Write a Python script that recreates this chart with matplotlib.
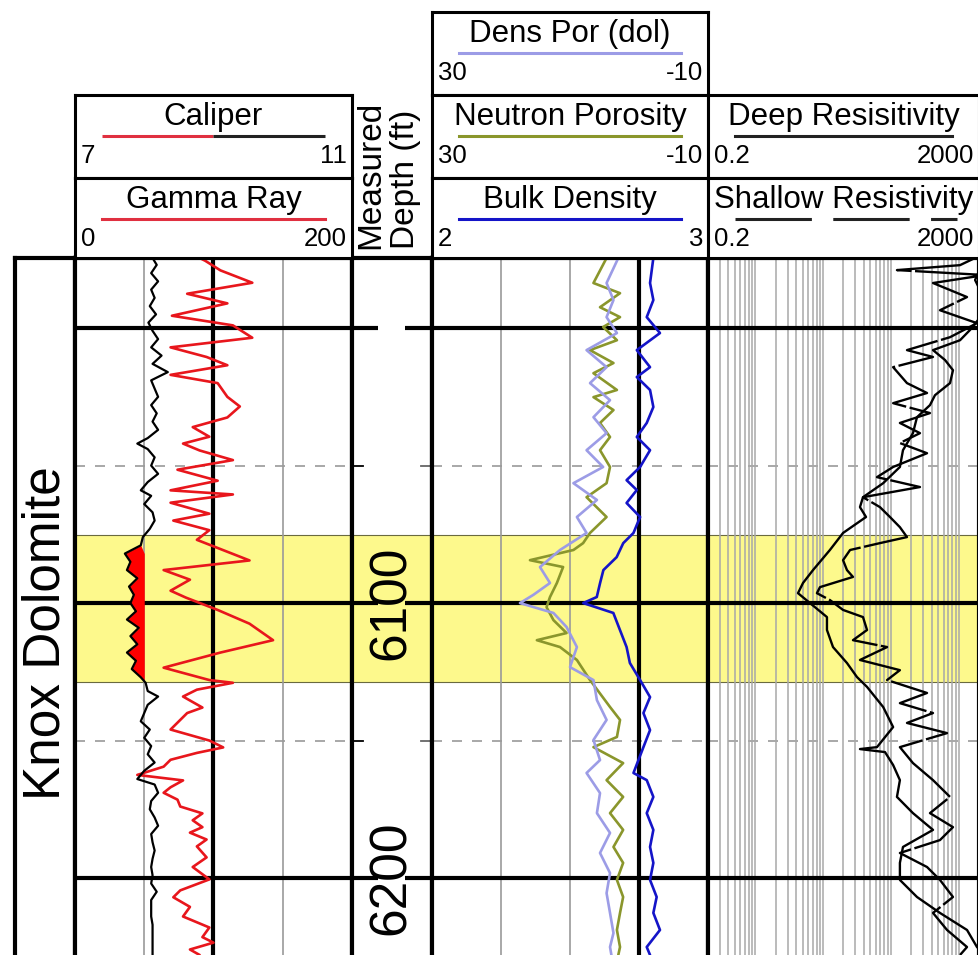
import numpy as np
import matplotlib
matplotlib.use('Agg')
import matplotlib.pyplot as plt

plt.rcParams['font.family'] = ['Liberation Sans', 'DejaVu Sans']

# ---------------- data ----------------
top_depth, bottom_depth = 5974.5, 6228.0
zone_top, zone_bottom = 6075.3, 6128.7
major_depths = [6000, 6100, 6200]
minor_depths = [6050, 6150]
depth_labels = ['6100', '6200']
formation = 'Knox Dolomite'

gr_depth = [5974.5, 5975.5, 5979, 5983.5, 5987.5, 5991, 5995.5, 5999, 6003.5, 6007,
            6010.5, 6013.5, 6017, 6020, 6025, 6028.5, 6032.5, 6036, 6039.5, 6042,
            6044.5, 6048, 6051.5, 6055.5, 6059, 6060.5, 6063.5, 6067.5, 6070, 6073.5,
            6077, 6084.5, 6088, 6091.5, 6095.5, 6098, 6102.5, 6107.5, 6113.5, 6118,
            6123.5, 6128, 6129, 6131.5, 6134, 6138, 6140, 6142.5, 6146, 6150,
            6152.5, 6154.5, 6157, 6159.5, 6162.5, 6164.5, 6167, 6169, 6171.5, 6174,
            6176.5, 6179, 6181.5, 6183.5, 6186, 6188.5, 6192.5, 6196, 6200.5, 6204.5,
            6207, 6210.5, 6214, 6218, 6221.5, 6223.5, 6226, 6228]
gr_value = [90, 94, 105, 128, 81, 110, 70, 114, 128, 69,
            95, 110, 69, 103, 110, 119, 110, 85, 97, 78,
            90, 114, 74, 103, 69, 114, 69, 97, 71, 97,
            88, 126, 64, 83, 69, 80, 103, 126, 143, 105,
            64, 97, 114, 88, 78, 92, 81, 76, 69, 97,
            107, 88, 69, 64, 45, 78, 69, 64, 74, 76,
            92, 85, 92, 83, 95, 88, 95, 85, 97, 76,
            71, 83, 78, 97, 92, 100, 83, 90]

cal_depth = [5974.5, 5977, 5980, 5983, 5986, 5989, 5992, 5995, 5998, 6001,
             6004, 6007, 6010, 6013, 6016, 6019, 6022, 6025, 6028, 6031,
             6034, 6037, 6040, 6042, 6044, 6047, 6050, 6053, 6056, 6059,
             6061, 6064, 6067, 6070, 6073, 6076, 6079, 6082, 6085, 6088,
             6091, 6094, 6097, 6100, 6103, 6106, 6109, 6112, 6115, 6118,
             6121, 6124, 6127, 6129, 6132, 6134, 6137, 6140, 6143, 6146,
             6149, 6152, 6155, 6158, 6161, 6164, 6166, 6169, 6172, 6175,
             6178, 6181, 6184, 6187, 6190, 6193, 6196, 6199, 6202, 6205,
             6208, 6211, 6214, 6217, 6220, 6224, 6228]
cal_value = [8.12, 8.18, 8.10, 8.20, 8.10, 8.15, 8.08, 8.17, 8.06, 8.12,
             8.20, 8.10, 8.25, 8.12, 8.34, 8.10, 8.15, 8.20, 8.10, 8.18,
             8.12, 8.20, 8.05, 7.90, 8.05, 8.15, 8.10, 8.20, 8.05, 7.95,
             8.10, 8.00, 8.12, 8.15, 8.08, 7.98, 7.95, 7.72, 7.80, 7.75,
             7.90, 7.78, 7.85, 7.80, 7.88, 7.75, 7.92, 7.80, 7.90, 7.75,
             7.88, 7.82, 7.95, 8.02, 8.05, 8.20, 8.05, 8.00, 7.95, 8.08,
             8.00, 8.10, 8.05, 8.15, 8.00, 7.90, 8.15, 8.20, 8.10, 8.08,
             8.15, 8.20, 8.10, 8.12, 8.15, 8.12, 8.10, 8.12, 8.10, 8.18,
             8.10, 8.10, 8.10, 8.12, 8.12, 8.12, 8.12]
bit_size = 8.0

nphi_depth = [5974.5, 5983.6, 5987.3, 5992.4, 5996.0, 5999.6, 6004.4, 6008.0, 6012.7, 6016.4,
              6022.5, 6025.1, 6029.8, 6034.5, 6039.6, 6044.4, 6050.5, 6056.4, 6061.5, 6068.7,
              6074.5, 6078.2, 6080.7, 6084.4, 6086.9, 6092.7, 6097.8, 6101.5, 6106.2, 6110.9,
              6113.5, 6116.0, 6120.7, 6128.0, 6137.8, 6142.5, 6148.7, 6152.4, 6158.2, 6164.4,
              6170.5, 6176.4, 6182.5, 6188.7, 6194.5, 6200.7, 6206.9, 6212.7, 6218.9, 6225.1,
              6228]
nphi_value = [4.7, 6.6, 2.75, 5.65, 2.75, 5.2, 3.2, 7.1, 3.7, 6.6,
              3.2, 6.6, 3.7, 5.65, 4.2, 5.65, 4.2, 4.7, 7.6, 4.7,
              7.1, 8.1, 9.5, 15.8, 11.0, 11.9, 12.9, 13.4, 12.4, 10.5,
              14.8, 11.45, 9.0, 7.1, 4.2, 2.75, 3.2, 6.6, 2.3, 4.7,
              2.3, 4.2, 2.3, 3.7, 2.3, 3.2, 2.3, 2.75, 3.2, 2.75,
              3.0]

dphi_depth = [5974.5, 5983.6, 5989.8, 5996.0, 6001.8, 6008.0, 6014.2, 6020.0, 6026.2, 6032.4,
              6038.2, 6044.4, 6050.5, 6056.4, 6062.5, 6068.7, 6074.5, 6080.7, 6086.9, 6092.7,
              6097.0, 6100.0, 6103.6, 6108.7, 6116.0, 6123.3, 6128.0, 6135.3, 6142.5, 6149.8,
              6157.1, 6161.8, 6169.1, 6176.4, 6183.6, 6190.9, 6198.2, 6205.5, 6212.7, 6220.0,
              6225.1, 6228]
dphi_value = [3.0, 4.7, 3.7, 4.7, 3.2, 7.6, 4.7, 7.1, 4.2, 6.6,
              4.7, 7.6, 5.2, 9.5, 6.1, 9.0, 7.6, 11.45, 14.35, 12.9,
              15.3, 17.25, 12.4, 10.5, 9.0, 10.0, 6.6, 6.1, 4.7, 6.6,
              5.65, 7.6, 5.65, 6.1, 4.2, 5.65, 4.2, 4.7, 4.2, 3.7,
              4.2, 4.0]

rhob_depth = [5974.5, 5983.6, 5989.8, 5996.0, 6001.8, 6008.0, 6014.2, 6017.8, 6022.5, 6028.7,
              6034.5, 6039.6, 6044.4, 6050.5, 6055.3, 6058.9, 6063.6, 6068.7, 6074.5, 6078.2,
              6083.3, 6088.0, 6092.7, 6097.8, 6100.0, 6103.6, 6109.8, 6116.0, 6121.8, 6128.0,
              6134.2, 6140.0, 6146.2, 6152.4, 6161.8, 6164.4, 6170.5, 6176.4, 6182.5, 6188.7,
              6194.5, 6200.7, 6206.9, 6212.7, 6218.9, 6225.1, 6228]
rhob_value = [2.802, 2.790, 2.802, 2.778, 2.826, 2.742, 2.790, 2.742, 2.790, 2.802,
              2.778, 2.742, 2.790, 2.754, 2.705, 2.742, 2.705, 2.754, 2.730, 2.693,
              2.669, 2.621, 2.609, 2.597, 2.548, 2.657, 2.681, 2.705, 2.717, 2.754,
              2.790, 2.766, 2.790, 2.766, 2.730, 2.778, 2.802, 2.778, 2.802, 2.790,
              2.802, 2.790, 2.814, 2.802, 2.826, 2.778, 2.790]

deep_depth = [5974.5, 5982.5, 5989.8, 5997.1, 6000.7, 6004.4, 6008.0, 6011.6, 6015.3, 6020.0,
              6024.4, 6028.0, 6032.4, 6038.2, 6044.4, 6050.5, 6056.4, 6061.5, 6065.1, 6068.7,
              6074.5, 6080.7, 6088.0, 6092.7, 6096.4, 6100.0, 6105.1, 6109.8, 6116.0, 6121.8,
              6126.9, 6130.5, 6137.8, 6145.1, 6152.4, 6153.1, 6154.2, 6158.9, 6164.4, 6170.5,
              6176.4, 6182.5, 6188.7, 6194.5, 6200.7, 6206.9, 6212.7, 6218.9, 6225.1, 6228.0]
deep_value = [2450, 1750, 2450, 1930, 1470, 1050, 419, 630, 826, 747,
              448, 378, 243, 212, 151, 136, 77, 38.8, 35, 43,
              19.7, 12.6, 7.1, 5.05, 4.26, 6.4, 11.4, 11.4, 14.0, 22.5,
              31.6, 44.5, 77, 108, 62.4, 35, 82, 108, 136, 123,
              212, 419, 151, 136, 136, 243, 531, 1331, 1867, 2450]

shal_depth = [5974.5, 5977.1, 5978.9, 5980.7, 5983.6, 5988.7, 5993.5, 5998.2, 6003.3, 6008.0,
              6010.5, 6014.2, 6020.0, 6023.6, 6027.3, 6030.9, 6034.5, 6038.2, 6041.8, 6045.5,
              6050.5, 6054.2, 6057.8, 6061.5, 6065.1, 6068.7, 6072.4, 6076.0, 6078.2, 6080.7,
              6084.4, 6088.0, 6090.5, 6094.2, 6096.4, 6098.9, 6102.5, 6105.1, 6109.8, 6113.5,
              6116.0, 6120.7, 6124.4, 6128.0, 6132.7, 6136.4, 6140.0, 6143.6, 6147.3, 6152.4,
              6158.2, 6164.4, 6170.5, 6176.4, 6181.5, 6186.2, 6190.9, 6196.0, 6200.7, 6206.9,
              6212.7, 6218.9, 6225.1, 6228.0]
shal_value = [1746, 1049, 123, 2450, 419, 1331, 531, 1867, 747, 173,
              419, 108, 173, 342, 108, 378, 136, 269, 136, 342,
              108, 62.4, 269, 38.8, 69, 97, 136, 173, 69, 25,
              19.7, 22.5, 27.6, 9.0, 8.1, 12.6, 19.7, 38.8, 44.5, 27.6,
              88, 35, 136, 88, 342, 136, 419, 173, 675, 136,
              212, 419, 747, 378, 826, 531, 136, 342, 531, 826,
              419, 675, 1331, 1049]

# ---------------- figure / layout ----------------
W, H = 979, 955
fig = plt.figure(figsize=(W / 100, H / 100), dpi=100)

def ax_px(x0, y0, x1, y1):
    return fig.add_axes([x0 / W, 1 - y1 / H, (x1 - x0) / W, (y1 - y0) / H])

YELLOW = '#fdf98c'
GRID = '#9a9a9a'
BORDER_LW = 3.0
CURVE_LW = 1.9
DATA_TOP = 258
curve_kw = dict(solid_joinstyle='round', solid_capstyle='round')

def style_track(ax):
    ax.set_ylim(bottom_depth, top_depth)
    ax.set_xticks([]); ax.set_yticks([])
    for s in ['left', 'right', 'top']:
        ax.spines[s].set_linewidth(BORDER_LW)
    ax.spines['bottom'].set_visible(False)

def depth_lines(ax):
    ax.axhspan(zone_top, zone_bottom, color=YELLOW, zorder=0, lw=0)
    for d in (zone_top, zone_bottom):
        ax.axhline(d, color='#6a6a40', lw=0.8, zorder=1)
    for d in major_depths:
        ax.axhline(d, color='black', lw=BORDER_LW, zorder=3)
    for d in minor_depths:
        ax.axhline(d, color=GRID, lw=1.2, dashes=(6, 6), zorder=2)

# formation column
axf = ax_px(15, DATA_TOP, 75, H)
axf.set_xlim(0, 1)
style_track(axf)
axf.text(0.52, 0.462, formation, transform=axf.transAxes, rotation=90,
         ha='center', va='center', fontsize=37)

# track 1: gamma ray + caliper
ax1 = ax_px(75, DATA_TOP, 352, H)
ax1.set_xlim(0, 200)
style_track(ax1)
depth_lines(ax1)
for g in (50, 150):
    ax1.axvline(g, color=GRID, lw=1.2, zorder=2)
ax1.axvline(100, color='black', lw=BORDER_LW, zorder=3)
ax1c = ax1.twiny()
ax1c.set_xlim(7, 11)
ax1c.axis('off')
cd = np.array(cal_depth); cv = np.array(cal_value)
mask = (cd >= zone_top + 4) & (cd <= zone_bottom) & (cv < bit_size)
ax1c.fill_betweenx(cd, cv, bit_size, where=mask, interpolate=True, color='#ff0000', lw=0, zorder=4)
ax1c.plot(cal_value, cal_depth, color='black', lw=1.6, zorder=5, **curve_kw)
ax1.plot(gr_value, gr_depth, color='#e8161c', lw=CURVE_LW, zorder=6, **curve_kw)

# depth track
axd = ax_px(352, DATA_TOP, 432, H)
axd.set_xlim(0, 1)
style_track(axd)
axd.axhspan(zone_top, zone_bottom, color=YELLOW, zorder=0, lw=0)
for d in (zone_top, zone_bottom):
    axd.axhline(d, color='#6a6a40', lw=0.8, zorder=1)
for d in major_depths:
    axd.plot([0, 0.32], [d, d], color='black', lw=BORDER_LW, solid_capstyle='butt')
    axd.plot([0.66, 1], [d, d], color='black', lw=BORDER_LW, solid_capstyle='butt')
for d in minor_depths:
    axd.plot([0, 0.14], [d, d], color='black', lw=1.3)
    axd.plot([0.86, 1], [d, d], color='#666666', lw=1.3)
for lab in depth_labels:
    axd.text(0.49, float(lab), lab, rotation=90, ha='center', va='center',
             fontsize=37, zorder=5)

# track 2: porosity + density
ax2 = ax_px(432, DATA_TOP, 708, H)
ax2.set_xlim(2, 3)
style_track(ax2)
depth_lines(ax2)
for g in (2.25, 2.5):
    ax2.axvline(g, color=GRID, lw=1.2, zorder=2)
ax2.axvline(2.75, color='black', lw=BORDER_LW, zorder=3)
ax2p = ax2.twiny()
ax2p.set_xlim(30, -10)
ax2p.axis('off')
ax2p.plot(nphi_value, nphi_depth, color='#8a962c', lw=CURVE_LW, zorder=5, **curve_kw)
ax2p.plot(dphi_value, dphi_depth, color='#9c9ce6', lw=CURVE_LW, zorder=6, **curve_kw)
ax2.plot(rhob_value, rhob_depth, color='#1414c8', lw=CURVE_LW, zorder=7, **curve_kw)

# track 3: resistivity
ax3 = ax_px(708, DATA_TOP, 979, H)
ax3.set_xscale('log')
ax3.set_xlim(0.2, 2000)
style_track(ax3)
ax3.set_xticks([], minor=True)
depth_lines(ax3)
for dec in (0.1, 1, 10, 100, 1000):
    for m in range(1, 10):
        v = m * dec
        if 0.2 <= v <= 2000:
            ax3.axvline(v, color='#a8a8a8', lw=1.1, zorder=2)
ax3.plot(deep_value, deep_depth, color='black', lw=1.7, zorder=5, **curve_kw)
ax3.plot(shal_value, shal_depth, color='black', lw=1.7, dashes=(40, 1.5), zorder=6)

# ---------------- headers ----------------
def header(x0, y0, x1, y1, title, lo, hi, color, dashed=False, split=None):
    ax = ax_px(x0, y0, x1, y1)
    w, h = x1 - x0, y1 - y0
    ax.set_xlim(0, w); ax.set_ylim(h, 0)
    ax.set_xticks([]); ax.set_yticks([])
    for s in ax.spines.values():
        s.set_linewidth(2.2)
    ax.text(w / 2, 22, title, ha='center', va='center', fontsize=22.5)
    if split:
        ax.plot([27, w / 2], [41, 41], color=split, lw=2.2, solid_capstyle='butt')
        ax.plot([w / 2, w - 27], [41, 41], color=color, lw=2.2, solid_capstyle='butt')
    elif dashed:
        ax.plot([27, w - 22], [41, 41], color=color, lw=2.2, dashes=(25, 7))
    else:
        ax.plot([27, w - 27], [41, 41], color=color, lw=2.2)
    ax.text(6, 61, lo, ha='left', va='center', fontsize=18.5)
    ax.text(w - 5, 61, hi, ha='right', va='center', fontsize=18.5)

header(75, 95, 352, 178, 'Caliper', '7', '11', '#222222', split='#e03040')
header(75, 178, 352, 258, 'Gamma Ray', '0', '200', '#e03040')
header(432, 12, 708, 95, 'Dens Por (dol)', '30', '-10', '#9c9ce6')
header(432, 95, 708, 178, 'Neutron Porosity', '30', '-10', '#8a962c')
header(432, 178, 708, 258, 'Bulk Density', '2', '3', '#1414c8')
header(708, 95, 979, 178, 'Deep Resisitivity', '0.2', '2000', '#222222')
header(708, 178, 979, 258, 'Shallow Resistivity', '0.2', '2000', '#222222', dashed=True)

for xc, txt in ((371, 'Measured'), (406, 'Depth (ft)')):
    fig.text(xc / W, 1 - 249 / H, txt, rotation=90, rotation_mode='anchor',
             ha='left', va='center', fontsize=24)

fig.savefig('out.png', dpi=100)
